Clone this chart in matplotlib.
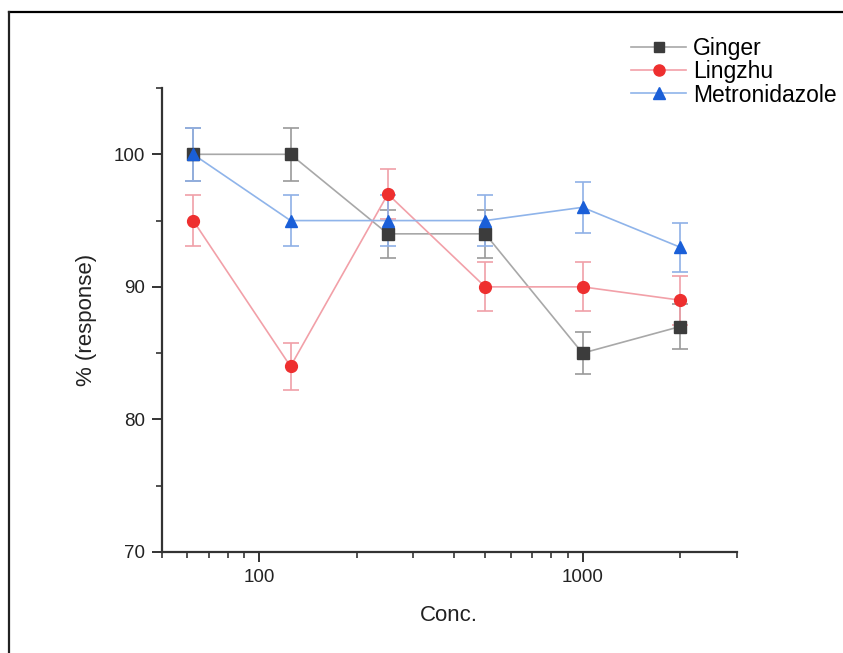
import matplotlib
matplotlib.use("Agg")
import matplotlib.pyplot as plt
from matplotlib.lines import Line2D
from matplotlib.ticker import FixedLocator, NullFormatter, FuncFormatter

plt.rcParams['font.family'] = ['Liberation Sans', 'DejaVu Sans']

conc = [62.5, 125, 250, 500, 1000, 2000]
ginger = [100, 100, 94, 94, 85, 87]
ginger_err = [2.0, 2.0, 1.8, 1.8, 1.6, 1.7]
lingzhu = [95, 84, 97, 90, 90, 89]
lingzhu_err = [1.9, 1.8, 1.9, 1.85, 1.85, 1.85]
metro = [100, 95, 95, 95, 96, 93]
metro_err = [2.0, 1.9, 1.9, 1.9, 1.9, 1.85]
series_names = ["Ginger", "Lingzhu", "Metronidazole"]

fig = plt.figure(figsize=(8.43, 6.53), dpi=100)
ax = fig.add_axes([0.192, 0.1547, 0.682, 0.7105])

styles = [
    (ginger, ginger_err, 's', '#3c3c3c', '#a8a8a8', '#9a9a9a'),
    (lingzhu, lingzhu_err, 'o', '#ee2f2f', '#f2a0a8', '#f0a0a8'),
    (metro, metro_err, '^', '#1a5fd8', '#8fb4ea', '#8fb0e6'),
]
for name, (vals, errs, mk, mcol, lcol, ecol) in zip(series_names, styles):
    ax.errorbar(conc, vals, yerr=errs, fmt='none', ecolor=ecol, elinewidth=1.2,
                capsize=6, capthick=1.2, zorder=2)
    ax.plot(conc, vals, color=lcol, lw=1.2, zorder=3)
    ax.plot(conc, vals, linestyle='none', marker=mk, color=mcol, markersize=8.5,
            markeredgecolor=mcol, zorder=4)

ax.set_xscale('log')
ax.set_xlim(50, 3000)
ax.set_ylim(70, 105)
ax.xaxis.set_major_locator(FixedLocator([100, 1000]))
ax.xaxis.set_major_formatter(FuncFormatter(lambda v, p: f"{int(v)}"))
ax.xaxis.set_minor_locator(FixedLocator([50, 60, 70, 80, 90, 200, 300, 400, 500, 600, 700, 800, 900, 2000, 3000]))
ax.xaxis.set_minor_formatter(NullFormatter())
ax.yaxis.set_major_locator(FixedLocator([70, 80, 90, 100]))
ax.yaxis.set_minor_locator(FixedLocator([75, 85, 95, 105]))

for s in ['top', 'right']:
    ax.spines[s].set_visible(False)
for s in ['left', 'bottom']:
    ax.spines[s].set_color('#333333')
    ax.spines[s].set_linewidth(1.6)
ax.tick_params(which='major', direction='out', length=7, width=1.4, color='#333333',
               labelsize=13.5, labelcolor='#222222', pad=5)
ax.tick_params(which='minor', direction='out', length=4, width=1.2, color='#333333')

ax.set_xlabel("Conc.", fontsize=16, color='#222222', labelpad=14)
ax.set_ylabel("% (response)", fontsize=16, color='#222222', labelpad=12)

handles = [
    Line2D([], [], color='#a8a8a8', lw=1.2, marker='s', markersize=7, markerfacecolor='#3c3c3c', markeredgecolor='#3c3c3c'),
    Line2D([], [], color='#f2a0a8', lw=1.2, marker='o', markersize=8, markerfacecolor='#ee2f2f', markeredgecolor='#ee2f2f'),
    Line2D([], [], color='#8fb4ea', lw=1.2, marker='^', markersize=8, markerfacecolor='#1a5fd8', markeredgecolor='#1a5fd8'),
]
fig.legend(handles, series_names, loc='upper left', bbox_to_anchor=(0.738, 0.958),
           frameon=False, fontsize=16.5, handlelength=2.4, handletextpad=0.3,
           labelspacing=0.02, borderaxespad=0)

# figure frame lines (top and left)
fig.add_artist(Line2D([9/843, 1.0], [1-12/653, 1-12/653], transform=fig.transFigure,
                      color='black', lw=1.6))
fig.add_artist(Line2D([9/843, 9/843], [0, 1-12/653], transform=fig.transFigure,
                      color='#222222', lw=1.6))

fig.savefig("out.png", dpi=100)
